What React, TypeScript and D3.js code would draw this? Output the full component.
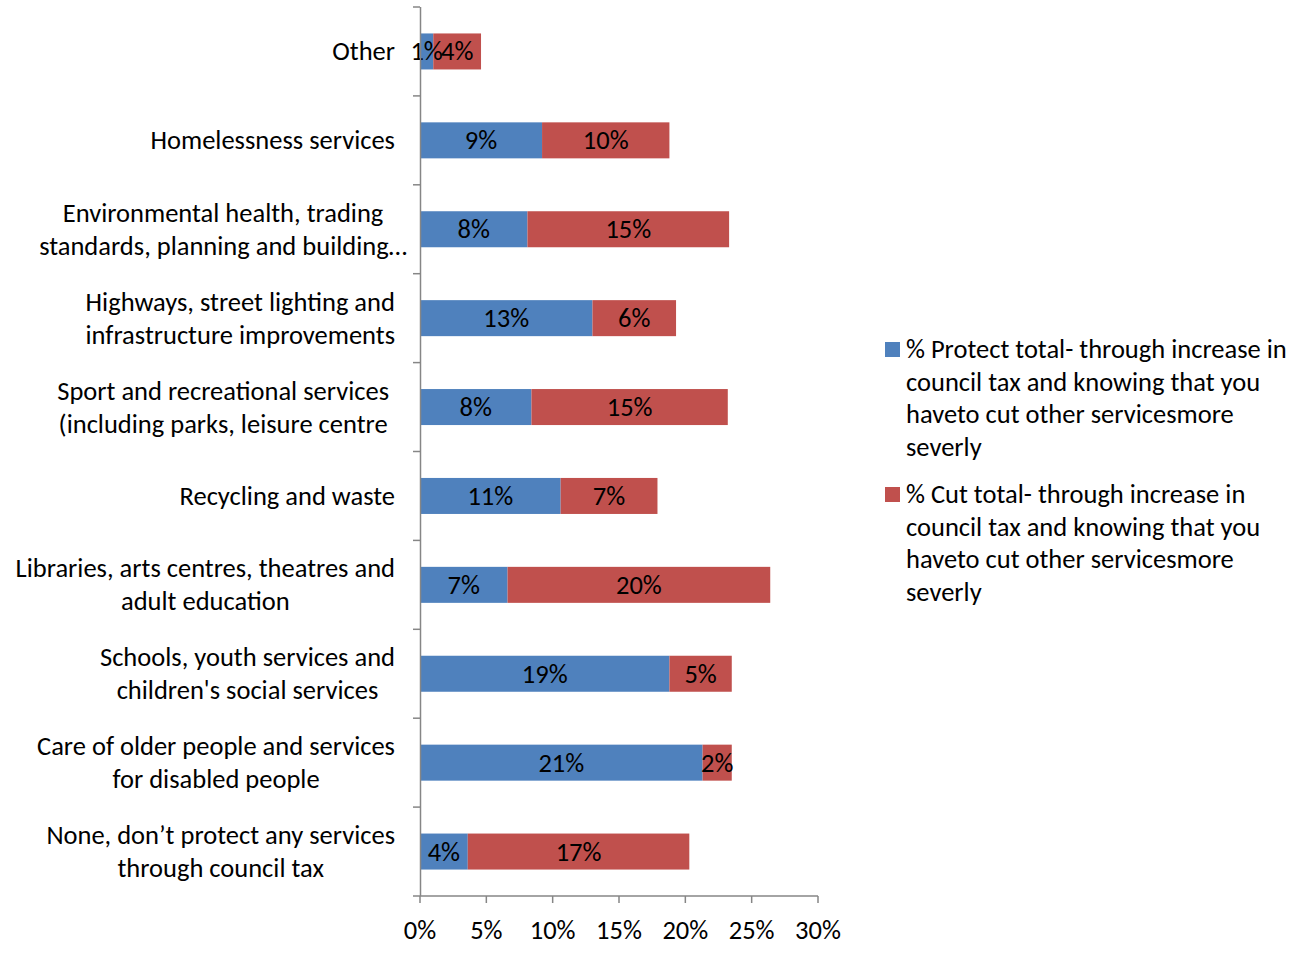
import React, { useEffect, useRef } from "react";
import * as d3 from "d3";

const categories: string[][] = [
  ["Other"],
  ["Homelessness services"],
  ["Environmental health, trading", "standards, planning and building…"],
  ["Highways, street lighting and", "infrastructure improvements"],
  ["Sport and recreational services", "(including parks, leisure centre"],
  ["Recycling and waste"],
  ["Libraries, arts centres, theatres and", "adult education"],
  ["Schools, youth services and", "children's social services"],
  ["Care of older people and services", "for disabled people"],
  ["None, don\u2019t protect any services", "through council tax"],
];

const protectValues: number[] = [1.0, 9.2, 8.1, 13.0, 8.4, 10.6, 6.6, 18.8, 21.3, 3.6];
const cutValues: number[] = [3.6, 9.6, 15.2, 6.3, 14.8, 7.3, 19.8, 4.7, 2.2, 16.7];

const xTicks: number[] = [0, 5, 10, 15, 20, 25, 30];

const legendProtect: string[] = [
  "% Protect total- through increase in",
  "council tax and knowing that you",
  "haveto cut other servicesmore",
  "severly",
];
const legendCut: string[] = [
  "% Cut total- through increase in",
  "council tax and knowing that you",
  "haveto cut other servicesmore",
  "severly",
];

const BLUE = "#4F81BD";
const RED = "#C0504D";
const AXIS = "#868686";
const FONT = "Calibri, Carlito, Lato, sans-serif";
const FS = 26.5;
// small horizontal nudges of individual category labels (layout only)
const LABEL_NUDGE: number[] = [0, 0, 12, 0, -6, 0, 0, 0, 0, 0];

export default function App() {
  const ref = useRef<SVGSVGElement>(null);

  useEffect(() => {
    const svg = d3.select(ref.current);
    svg.selectAll("*").remove();

    const left = 420;
    const right = 818;
    const top = 7;
    const bottom = 896;

    const x = d3.scaleLinear().domain([0, 30]).range([left, right]);
    const y = d3
      .scaleBand<number>()
      .domain(d3.range(categories.length))
      .range([top, bottom])
      .paddingInner(0.595)
      .paddingOuter(0.2975);
    const band = (bottom - top) / categories.length;

    const g = svg.append("g").style("font-family", FONT).style("font-size", FS + "px");

    // bars
    categories.forEach((_, i) => {
      const p = protectValues[i];
      const c = cutValues[i];
      const yy = y(i)!;
      const h = y.bandwidth();
      g.append("rect")
        .attr("x", x(0))
        .attr("y", yy)
        .attr("width", x(p) - x(0))
        .attr("height", h)
        .attr("fill", BLUE);
      g.append("rect")
        .attr("x", x(p))
        .attr("y", yy)
        .attr("width", x(p + c) - x(p))
        .attr("height", h)
        .attr("fill", RED);
      g.append("text")
        .attr("x", (x(0) + x(p)) / 2)
        .attr("y", yy + h / 2)
        .attr("dy", "0.34em")
        .attr("text-anchor", "middle")
        .attr("fill", "#000")
        .text(Math.round(p) + "%");
      g.append("text")
        .attr("x", (x(p) + x(p + c)) / 2)
        .attr("y", yy + h / 2)
        .attr("dy", "0.34em")
        .attr("text-anchor", "middle")
        .attr("fill", "#000")
        .text(Math.round(c) + "%");
    });

    // y axis
    g.append("line")
      .attr("x1", left + 0.5)
      .attr("x2", left + 0.5)
      .attr("y1", top)
      .attr("y2", bottom)
      .attr("stroke", AXIS)
      .attr("stroke-width", 1.5);
    d3.range(categories.length + 1).forEach((i) => {
      const yy = top + i * band;
      g.append("line")
        .attr("x1", left - 7)
        .attr("x2", left)
        .attr("y1", yy)
        .attr("y2", yy)
        .attr("stroke", AXIS)
        .attr("stroke-width", 1.5);
    });

    // x axis
    g.append("line")
      .attr("x1", left)
      .attr("x2", right)
      .attr("y1", bottom)
      .attr("y2", bottom)
      .attr("stroke", AXIS)
      .attr("stroke-width", 1.5);
    xTicks.forEach((t) => {
      g.append("line")
        .attr("x1", x(t))
        .attr("x2", x(t))
        .attr("y1", bottom)
        .attr("y2", bottom + 7)
        .attr("stroke", AXIS)
        .attr("stroke-width", 1.5);
      g.append("text")
        .attr("x", x(t))
        .attr("y", 930)
        .attr("dy", "0.34em")
        .attr("text-anchor", "middle")
        .attr("fill", "#000")
        .text(t + "%");
    });

    // category labels
    const lineH = 33;
    categories.forEach((lines, i) => {
      const cy = top + (i + 0.5) * band;
      const texts = lines.map((ln, k) =>
        g
          .append("text")
          .attr("y", cy + (k - (lines.length - 1) / 2) * lineH)
          .attr("dy", "0.34em")
          .attr("text-anchor", "middle")
          .attr("fill", "#000")
          .text(ln)
      );
      const widths = texts.map((t) => (t.node() as SVGTextElement).getComputedTextLength());
      const maxW = Math.max(...widths);
      const cx = 395 + LABEL_NUDGE[i] - maxW / 2;
      texts.forEach((t) => t.attr("x", cx));
    });

    // legend
    const drawLegend = (lines: string[], color: string, y0: number) => {
      g.append("rect")
        .attr("x", 885)
        .attr("y", y0 - 7)
        .attr("width", 15)
        .attr("height", 15)
        .attr("fill", color);
      lines.forEach((ln, k) => {
        g.append("text")
          .attr("x", 906)
          .attr("y", y0 + k * 32.7)
          .attr("dy", "0.34em")
          .attr("fill", "#000")
          .text(ln);
      });
    };
    drawLegend(legendProtect, BLUE, 349);
    drawLegend(legendCut, RED, 494);
  }, []);

  return (
    <svg
      ref={ref}
      width={1294}
      height={958}
      style={{ position: "absolute", left: 0, top: 0, background: "#fff" }}
    />
  );
}
